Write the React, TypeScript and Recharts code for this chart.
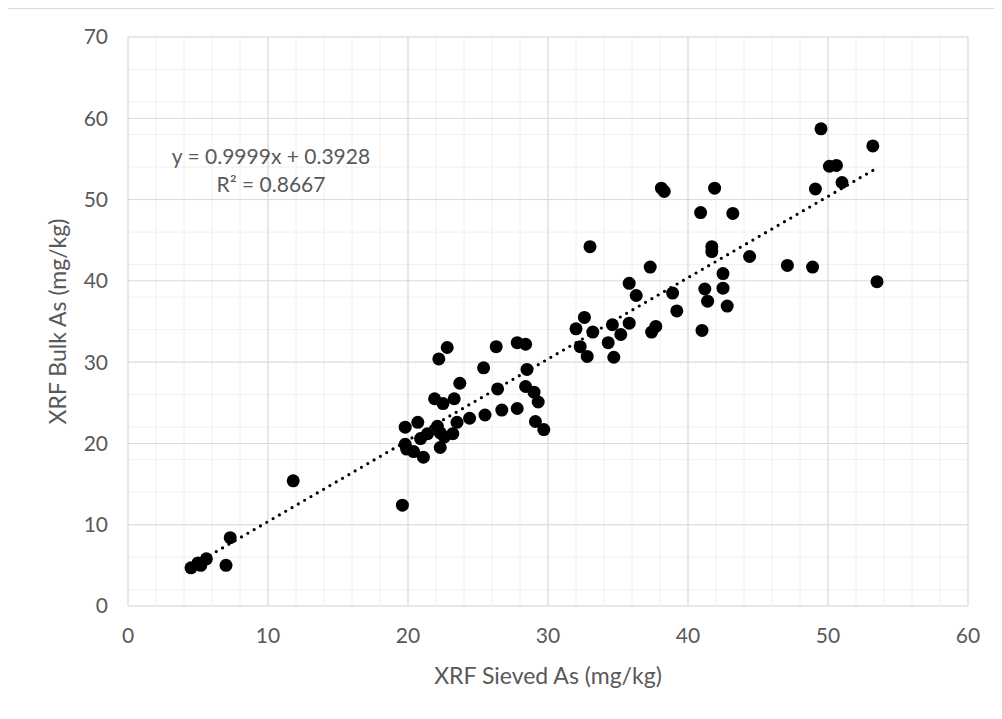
import React from 'react';
import { ScatterChart, Scatter, XAxis, YAxis, CartesianGrid, ReferenceLine } from 'recharts';

const sievedAs = [
  4.5, 5.0, 5.2, 5.6, 7.0, 7.3, 11.8, 19.6,
  19.8, 20.7, 19.8, 19.9, 20.4, 21.1, 20.9, 21.4, 22.1, 22.3, 22.6, 22.3, 23.2, 23.5, 24.4,
  21.9, 22.5, 23.3, 23.7, 22.2, 22.8,
  25.4, 25.5, 26.3, 26.4, 26.7, 27.8, 27.8, 28.4, 28.5, 28.4, 29.0, 29.3, 29.1, 29.7,
  32.0, 32.6, 33.2, 32.3, 32.8, 33.0, 34.3, 34.6, 34.7, 35.2, 35.8, 35.8, 36.3, 37.3, 37.4, 37.7, 38.1, 38.3, 38.9, 39.2,
  40.9, 41.0, 41.2, 41.4, 41.7, 41.7, 41.9, 42.5, 42.5, 42.8, 43.2, 44.4,
  47.1, 48.9, 49.1, 49.5, 50.1, 50.6, 51.0, 53.2, 53.5,
];
const bulkAs = [
  4.7, 5.3, 5.0, 5.8, 5.0, 8.4, 15.4, 12.4,
  22.0, 22.6, 19.9, 19.3, 19.0, 18.3, 20.6, 21.2, 22.1, 19.5, 20.8, 21.3, 21.2, 22.6, 23.1,
  25.5, 24.9, 25.5, 27.4, 30.4, 31.8,
  29.3, 23.5, 31.9, 26.7, 24.1, 24.3, 32.4, 32.2, 29.1, 27.0, 26.3, 25.1, 22.7, 21.7,
  34.1, 35.5, 33.7, 31.9, 30.7, 44.2, 32.4, 34.6, 30.6, 33.4, 34.8, 39.7, 38.2, 41.7, 33.7, 34.4, 51.4, 51.0, 38.5, 36.3,
  48.4, 33.9, 39.0, 37.5, 44.2, 43.6, 51.4, 40.9, 39.1, 36.9, 48.3, 43.0,
  41.9, 41.7, 51.3, 58.7, 54.1, 54.2, 52.1, 56.6, 39.9,
];

const xMajorTicks = [0, 10, 20, 30, 40, 50, 60];
const yMajorTicks = [0, 10, 20, 30, 40, 50, 60, 70];
const xMinorTicks = [0, 2, 4, 6, 8, 10, 12, 14, 16, 18, 20, 22, 24, 26, 28, 30, 32, 34, 36, 38, 40, 42, 44, 46, 48, 50, 52, 54, 56, 58, 60];
const yMinorTicks = [0, 2, 4, 6, 8, 10, 12, 14, 16, 18, 20, 22, 24, 26, 28, 30, 32, 34, 36, 38, 40, 42, 44, 46, 48, 50, 52, 54, 56, 58, 60, 62, 64, 66, 68, 70];

const trendStart = { x: 4.5, y: 4.89 };
const trendEnd = { x: 53.5, y: 53.89 };

const xTitle = 'XRF Sieved As (mg/kg)';
const yTitle = 'XRF Bulk As (mg/kg)';
const equationLine = 'y = 0.9999x + 0.3928';
const rSquaredLine = 'R² = 0.8667';

const points = sievedAs.map((x, i) => ({ x, y: bulkAs[i] }));

const FONT = 'Lato, "Open Sans", sans-serif';
const TEXT = '#595959';

const Dot = (props: any) => <circle cx={props.cx} cy={props.cy} r={6.5} fill="#000000" />;

export default function App() {
  return (
    <div style={{ width: 994, height: 711, overflow: 'hidden', marginLeft: -1 }}>
      <div style={{ width: 998, height: 720, border: '1px solid #d9d9d9', background: '#fff' }}>
        <ScatterChart width={990} height={700} margin={{ top: 28, right: 30, left: 40, bottom: 43 }}>
          <XAxis xAxisId="minor" type="number" dataKey="x" domain={[0, 60]} ticks={xMinorTicks} hide allowDataOverflow />
          <YAxis yAxisId="minor" type="number" dataKey="y" domain={[0, 70]} ticks={yMinorTicks} hide allowDataOverflow />
          <CartesianGrid xAxisId="minor" yAxisId="minor" stroke="#f0f0f0" strokeWidth={1} />
          <CartesianGrid stroke="#d9d9d9" strokeWidth={1} />
          <XAxis
            type="number"
            dataKey="x"
            domain={[0, 60]}
            ticks={xMajorTicks}
            height={60}
            axisLine={false}
            tickLine={false}
            tickSize={0}
            tickMargin={22}
            tick={{ fill: TEXT, fontSize: 21, fontFamily: FONT }}
            allowDataOverflow
            label={{ value: xTitle, position: 'bottom', offset: 2, fill: TEXT, fontSize: 23, fontFamily: FONT }}
          />
          <YAxis
            type="number"
            dataKey="y"
            domain={[0, 70]}
            ticks={yMajorTicks}
            width={80}
            axisLine={false}
            tickLine={false}
            tickSize={0}
            tickMargin={20}
            tick={{ fill: TEXT, fontSize: 21, fontFamily: FONT }}
            allowDataOverflow
            label={{ value: yTitle, angle: -90, position: 'insideLeft', offset: 10, fill: TEXT, fontSize: 23, fontFamily: FONT, style: { textAnchor: 'middle' } }}
          />
          <Scatter data={points} fill="#000000" shape={Dot} isAnimationActive={false} />
          <ReferenceLine
            segment={[trendStart, trendEnd]}
            stroke="#000000"
            strokeWidth={3.2}
            strokeLinecap="round"
            strokeDasharray="0 7.3"
            ifOverflow="visible"
          />
          <text x={263} y={155} textAnchor="middle" fill={TEXT} fontSize={21} fontFamily={FONT}>{equationLine}</text>
          <text x={263} y={183} textAnchor="middle" fill={TEXT} fontSize={21} fontFamily={FONT}>{rSquaredLine}</text>
        </ScatterChart>
      </div>
    </div>
  );
}
